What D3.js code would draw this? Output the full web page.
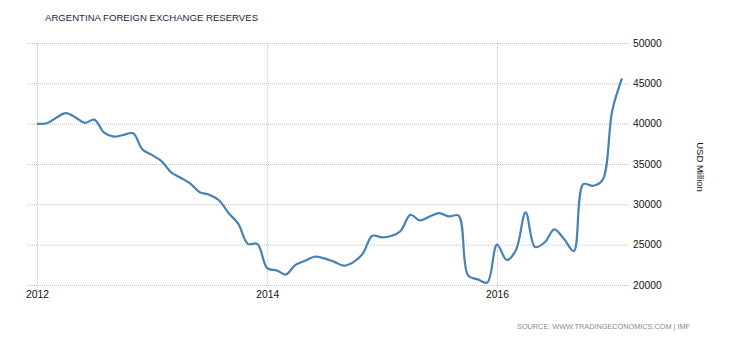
<!DOCTYPE html>
<html>
<head>
<meta charset="utf-8">
<script src="https://cdn.jsdelivr.net/npm/d3@7/dist/d3.min.js"></script>
<style>
  html, body { margin: 0; padding: 0; background: #fff; }
  svg { display: block; font-family: "Liberation Sans", Arial, sans-serif; }
</style>
</head>
<body>
<svg id="chart" width="730" height="340"></svg>
<script>
// Argentina foreign exchange reserves, USD million, monthly from Jan 2012
const startYear = 2012, startMonth = 0;
const reserves = [
  40000, 40050, 40700, 41300, 40800, 40100, 40500, 38900, 38400, 38600, 38800, 36800,
  36100, 35300, 34000, 33300, 32600, 31500, 31200, 30500, 28900, 27600, 25100, 25100,
  22100, 21800, 21300, 22500, 23000, 23500, 23300, 22900, 22400, 22800, 23900, 26100,
  25900, 26100, 26700, 28700, 28000, 28500, 28900, 28500, 28600, 21200, 20700, 20300,
  25000, 23100, 24300, 29000, 24700, 25300, 26900, 25700, 24200, 32500, 32300, 33000,
  41600, 45600
];
const yTicks = [20000, 25000, 30000, 35000, 40000, 45000, 50000];
const xTickYears = [2012, 2014, 2016];

const title = "ARGENTINA FOREIGN EXCHANGE RESERVES";
const unitLabel = "USD Million";
const sourceText = "SOURCE: WWW.TRADINGECONOMICS.COM | IMF";

const data = reserves.map((v, i) => ({ date: new Date(startYear, startMonth + i, 1), value: v }));

const svg = d3.select("#chart");

const x = d3.scaleTime()
  .domain([new Date(2012, 0, 1), new Date(2016, 0, 1)])
  .range([37, 497]);
const y = d3.scaleLinear()
  .domain([20000, 50000])
  .range([285, 43]);

const gridColor = "#c4c4c4";

// horizontal grid + right-side value labels
const yAxis = d3.axisRight(y)
  .tickValues(yTicks)
  .tickSize(630 - 28)
  .tickPadding(3)
  .tickFormat(d3.format("d"));
svg.append("g")
  .attr("transform", "translate(28,0)")
  .call(yAxis)
  .call(g => g.select(".domain").remove())
  .call(g => g.selectAll(".tick line")
    .attr("stroke", gridColor)
    .attr("stroke-dasharray", "1,1"))
  .call(g => g.selectAll(".tick text")
    .attr("fill", "#111")
    .attr("font-size", 10.3));

// vertical grid + year labels
const xAxis = d3.axisBottom(x)
  .tickValues(xTickYears.map(yr => new Date(yr, 0, 1)))
  .tickSize(288 - 43)
  .tickPadding(3)
  .tickFormat(d3.timeFormat("%Y"));
svg.append("g")
  .attr("transform", "translate(0,43)")
  .call(xAxis)
  .call(g => g.select(".domain").remove())
  .call(g => g.selectAll(".tick line")
    .attr("stroke", gridColor)
    .attr("stroke-dasharray", "1,1"))
  .call(g => g.selectAll(".tick text")
    .attr("fill", "#111")
    .attr("font-size", 10.3));

// reserves line
const line = d3.line()
  .x(d => x(d.date))
  .y(d => y(d.value))
  .curve(d3.curveCatmullRom.alpha(0.5));
svg.append("path")
  .datum(data)
  .attr("fill", "none")
  .attr("stroke", "#4682b4")
  .attr("stroke-width", 2.2)
  .attr("stroke-linejoin", "round")
  .attr("d", line);

// title
svg.append("text")
  .attr("x", 45)
  .attr("y", 21)
  .attr("font-size", 9.6)
  .attr("fill", "#1e1e3a")
  .text(title);

// unit label, rotated
svg.append("text")
  .attr("transform", "translate(697,167) rotate(90)")
  .attr("text-anchor", "middle")
  .attr("font-size", 9.5)
  .attr("fill", "#111")
  .text(unitLabel);

// source
svg.append("text")
  .attr("x", 690)
  .attr("y", 329)
  .attr("text-anchor", "end")
  .attr("font-size", 7.3)
  .attr("fill", "#8a8a8a")
  .text(sourceText);
</script>
</body>
</html>
